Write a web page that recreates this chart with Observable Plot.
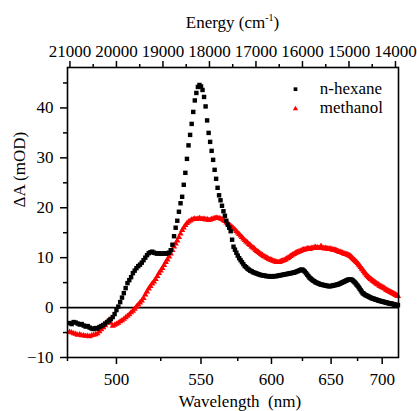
<!DOCTYPE html>
<html>
<head>
<meta charset="utf-8">
<script src="https://cdn.jsdelivr.net/npm/d3@7"></script>
<script src="https://cdn.jsdelivr.net/npm/@observablehq/plot@0.6"></script>
<style>
  html, body { margin: 0; padding: 0; background: white; }
</style>
</head>
<body>
<script>
// Wavelength sampling grid: starts at 476 nm, one value per nm
const wlStart = 476;

// n-hexane ΔA (mOD), rows of 10 values (476-485, 486-495, ...)
const hexane = [
  -3.1,-3.3,-2.9,-3.0,-3.2,-3.4,-3.3,-3.6,-3.8,-3.7,
  -4.0,-4.2,-4.3,-4.1,-4.2,-3.9,-3.7,-3.5,-3.2,-2.9,
  -2.6,-2.3,-1.9,-1.3,-0.5,0.2,1.1,2.0,2.9,3.9,
  4.9,5.5,6.1,6.9,7.4,7.9,8.3,8.6,9.0,9.5,
  10.0,10.5,10.9,11.1,11.2,11.0,10.9,10.8,10.9,10.8,
  10.8,10.9,10.8,10.9,11.0,11.5,12.6,14.3,16.0,17.4,
  19.2,20.9,22.2,24.6,27.0,29.8,32.5,34.6,36.8,39.2,
  41.5,43.0,44.2,44.6,44.3,43.6,42.2,40.3,37.5,35.0,
  33.2,31.4,29.6,27.6,25.8,24.0,22.5,21.5,20.4,19.3,
  18.4,17.4,16.6,16.0,15.3,13.6,12.2,11.6,11.0,10.4,
  9.9,9.5,9.1,8.7,8.3,8.1,7.8,7.6,7.4,7.3,
  7.1,7.0,6.9,6.8,6.7,6.6,6.5,6.5,6.4,6.4,
  6.3,6.3,6.3,6.2,6.3,6.2,6.3,6.3,6.3,6.4,
  6.4,6.5,6.5,6.6,6.6,6.7,6.7,6.8,6.8,6.9,
  6.9,7.0,7.0,7.1,7.2,7.3,7.4,7.5,7.6,7.6,
  7.4,7.2,6.9,6.6,6.3,6.0,5.8,5.6,5.4,5.3,
  5.1,5.0,4.9,4.8,4.7,4.6,4.6,4.5,4.5,4.4,
  4.4,4.3,4.3,4.3,4.3,4.4,4.4,4.5,4.5,4.6,
  4.6,4.7,4.8,4.9,5.0,5.1,5.2,5.3,5.4,5.5,
  5.6,5.6,5.6,5.6,5.5,5.3,5.1,4.9,4.6,4.4,
  4.1,3.8,3.5,3.2,2.9,2.8,2.6,2.5,2.4,2.3,
  2.2,2.1,2.0,1.9,1.8,1.8,1.7,1.6,1.6,1.5,
  1.4,1.4,1.3,1.3,1.2,1.2,1.1,1.1,1.0,1.0,
  0.9,0.9,0.8,0.8,0.8,0.7,0.7,0.6,0.6,0.5,
  0.5,0.5
];

// methanol ΔA (mOD), same grid
const methanol = [
  -4.9,-5.0,-5.2,-5.3,-5.5,-5.4,-5.6,-5.6,-5.7,-5.7,
  -5.8,-5.6,-5.5,-5.4,-5.2,-4.8,-4.4,-4.0,-3.6,-3.0,
  -2.5,-3.1,-3.7,-3.5,-3.3,-3.1,-2.8,-2.6,-2.3,-2.0,
  -1.7,-1.4,-1.0,-0.7,-0.3,0.2,0.6,1.0,1.4,1.9,
  2.6,3.2,3.8,4.3,4.8,5.2,5.7,6.3,6.9,7.4,
  7.9,8.5,9.1,9.6,10.2,10.8,11.5,12.2,12.8,13.4,
  14.1,14.8,15.5,16.0,16.5,16.9,17.2,17.4,17.6,17.7,
  17.8,17.7,17.8,17.9,17.8,17.7,17.8,17.6,17.7,17.5,
  17.6,17.7,17.8,17.9,18.0,17.9,17.9,17.8,17.7,17.5,
  17.3,17.0,16.8,16.6,16.4,16.1,15.9,15.6,15.3,15.0,
  14.7,14.4,14.1,13.8,13.5,13.2,13.0,12.7,12.5,12.2,
  12.0,11.8,11.5,11.3,11.1,10.9,10.7,10.5,10.3,10.2,
  10.0,9.9,9.7,9.6,9.5,9.4,9.3,9.2,9.1,9.1,
  9.1,9.2,9.3,9.4,9.5,9.6,9.8,9.9,10.1,10.3,
  10.4,10.6,10.7,10.9,11.0,11.1,11.2,11.3,11.4,11.5,
  11.6,11.6,11.7,11.8,11.8,11.7,11.8,11.9,11.9,12.0,
  12.1,11.9,12.0,11.9,11.9,12.3,11.9,11.9,11.8,11.9,
  11.8,11.8,11.7,11.8,11.7,11.6,11.6,11.5,11.5,11.4,
  11.3,11.2,11.1,11.1,11.0,10.9,10.8,10.7,10.7,10.6,
  10.5,10.4,10.3,10.1,9.9,9.7,9.5,9.3,9.1,8.9,
  8.6,8.4,8.1,7.8,7.6,7.3,7.0,6.8,6.5,6.3,
  6.1,5.9,5.7,5.6,5.4,5.3,5.1,5.0,4.8,4.7,
  4.6,4.4,4.3,4.2,4.1,4.0,3.9,3.8,3.6,3.5,
  3.4,3.3,3.2,3.1,3.0,2.9,2.8,2.7,2.6,2.5,
  2.4,2.3
];

const seriesNames = ["n-hexane", "methanol"];
const seriesColors = ["#000000", "#ff0000"];

// tick labels
const yMajor = [-10, 0, 10, 20, 30, 40];
const yMinor = [-5, 5, 15, 25, 35, 45];
const wlMajor = [500, 550, 600, 650, 700];
const wlMinor = [475, 525, 575, 625, 675];
const eMajor = [21000, 20000, 19000, 18000, 17000, 16000, 15000, 14000];
const eMinor = [20500, 19500, 18500, 17500, 16500, 15500, 14500];

const toE = nm => 1e7 / nm;

const hexRows = hexane.map((v, i) => ({E: toE(wlStart + i), v}));
const metRows = methanol.map((v, i) => ({E: toE(wlStart + i), v}));

const font = '"Liberation Serif", "DejaVu Serif", serif';

const plot = Plot.plot({
  width: 417,
  height: 411,
  marginLeft: 67,
  marginRight: 19,
  marginTop: 67,
  marginBottom: 54,
  x: {type: "linear", domain: [toE(475), 13935], axis: null},
  y: {domain: [-10, 48.1], axis: null},
  style: {fontFamily: font, fontSize: "17px", color: "black", background: "white"},
  marks: [
    Plot.ruleY([0], {stroke: "black", strokeWidth: 1.6}),
    Plot.dot(metRows, {x: "E", y: "v", symbol: "triangle", fill: seriesColors[1], r: 2.3}),
    Plot.dot(hexRows, {x: "E", y: "v", symbol: "square", fill: seriesColors[0], r: 2.5}),
    Plot.frame({stroke: "black", strokeWidth: 1.6}),
    Plot.axisY(yMajor, {tickSize: 7, tickPadding: 7, strokeWidth: 1.5, fontSize: 17, label: null}),
    Plot.axisY(yMinor, {tickSize: 4, strokeWidth: 1.5, tickFormat: () => "", label: null}),
    Plot.axisX(wlMajor.map(toE), {anchor: "bottom", tickSize: 7, tickPadding: 8, strokeWidth: 1.5, fontSize: 17,
      tickFormat: e => String(Math.round(1e7 / e)), label: null}),
    Plot.axisX(wlMinor.map(toE), {anchor: "bottom", tickSize: 4, strokeWidth: 1.5, tickFormat: () => "", label: null}),
    Plot.axisX(eMajor, {anchor: "top", tickSize: 7, tickPadding: 4, strokeWidth: 1.5, fontSize: 17,
      tickFormat: d => String(d), label: null}),
    Plot.axisX(eMinor, {anchor: "top", tickSize: 4, strokeWidth: 1.5, tickFormat: () => "", label: null}),
    // legend (inside the frame, top right)
    Plot.dot([seriesNames[0]], {frameAnchor: "top-right", dx: -103, dy: 21.7, fill: seriesColors[0], symbol: "square", r: 2.1}),
    Plot.dot([seriesNames[1]], {frameAnchor: "top-right", dx: -103, dy: 41.3, fill: seriesColors[1], symbol: "triangle", r: 2}),
    Plot.text([seriesNames[0]], {frameAnchor: "top-right", lineAnchor: "middle", textAnchor: "start", fontSize: 17, fill: "black", dx: -78.7, dy: 20.9}),
    Plot.text([seriesNames[1]], {frameAnchor: "top-right", lineAnchor: "middle", textAnchor: "start", fontSize: 17, fill: "black", dx: -78.7, dy: 40.3}),
    // axis titles
    Plot.text(["ΔA (mOD)"], {frameAnchor: "left", lineAnchor: "middle", rotate: -90, dx: -48, dy: -5, fontSize: 17, fill: "black"}),
    Plot.text(["Wavelength  (nm)"], {frameAnchor: "bottom", lineAnchor: "middle", dx: 7, dy: 44, fontSize: 17, fill: "black"})
  ]
});

document.body.appendChild(plot);

// Top axis title with superscript
const svg = d3.select(plot);
const xs = plot.scale("x");
const cx = (xs.range[0] + xs.range[1]) / 2;
const title = svg.append("text")
  .attr("x", cx).attr("y", 28)
  .attr("text-anchor", "middle")
  .style("font-family", font)
  .attr("font-size", 17)
  .attr("fill", "black");
title.append("tspan").text("Energy (cm");
title.append("tspan").attr("font-size", 10).attr("dy", -7).text("-1");
title.append("tspan").attr("dy", 7).text(")");
</script>
</body>
</html>
